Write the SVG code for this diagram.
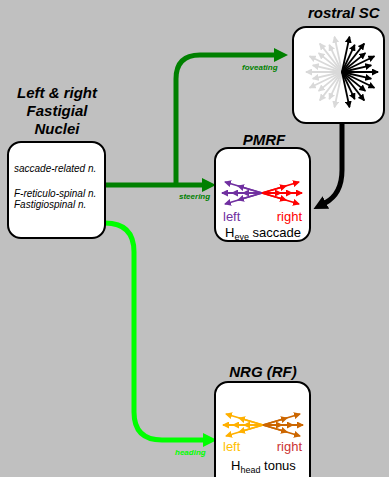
<svg xmlns="http://www.w3.org/2000/svg" width="389" height="477" viewBox="0 0 389 477">
<style>
.box{fill:#fff;stroke:#000;stroke-width:2}
.title{font-family:"Liberation Sans",Arial,sans-serif;font-weight:bold;font-style:italic;font-size:15px;fill:#000}
.small{font-family:"Liberation Sans",Arial,sans-serif;font-style:italic;font-size:10px;fill:#000}
.lbl{font-family:"Liberation Sans",Arial,sans-serif;font-size:13px}
.clbl{font-family:"Liberation Sans",Arial,sans-serif;font-weight:bold;font-style:italic;font-size:8px}
.conn{fill:none;stroke-width:5}
.ray{fill:none;stroke-width:1.8}
</style>
<defs>
<marker id="mDG" markerUnits="userSpaceOnUse" markerWidth="14" markerHeight="14" refX="1" refY="7" orient="auto"><path d="M0,0 L14,7 L0,14 z" fill="#008000"/></marker>
<marker id="mLG" markerUnits="userSpaceOnUse" markerWidth="14" markerHeight="14" refX="1" refY="7" orient="auto"><path d="M0,0 L14,7 L0,14 z" fill="#00FF00"/></marker>
<marker id="mBK" markerUnits="userSpaceOnUse" markerWidth="14" markerHeight="14" refX="1" refY="7" orient="auto"><path d="M0,0 L14,7 L0,14 z" fill="#000"/></marker>
<marker id="sBK" markerUnits="userSpaceOnUse" markerWidth="7" markerHeight="7" refX="6" refY="3.5" orient="auto"><path d="M0,0 L7,3.5 L0,7 z" fill="#000"/></marker>
<marker id="sGR" markerUnits="userSpaceOnUse" markerWidth="7" markerHeight="7" refX="6" refY="3.5" orient="auto"><path d="M0,0 L7,3.5 L0,7 z" fill="#D9D9D9"/></marker>
<marker id="sPU" markerUnits="userSpaceOnUse" markerWidth="7" markerHeight="7" refX="6" refY="3.5" orient="auto"><path d="M0,0 L7,3.5 L0,7 z" fill="#7030A0"/></marker>
<marker id="sRD" markerUnits="userSpaceOnUse" markerWidth="7" markerHeight="7" refX="6" refY="3.5" orient="auto"><path d="M0,0 L7,3.5 L0,7 z" fill="#FF0000"/></marker>
<marker id="sOR" markerUnits="userSpaceOnUse" markerWidth="7" markerHeight="7" refX="6" refY="3.5" orient="auto"><path d="M0,0 L7,3.5 L0,7 z" fill="#FFB000"/></marker>
<marker id="sDO" markerUnits="userSpaceOnUse" markerWidth="7" markerHeight="7" refX="6" refY="3.5" orient="auto"><path d="M0,0 L7,3.5 L0,7 z" fill="#CC6600"/></marker>
</defs>
<rect width="389" height="477" fill="#C0C0C0"/>

<g id="connectors">
<path class="conn" stroke="#008000" d="M105 185 H203" marker-end="url(#mDG)"/>
<path class="conn" stroke="#008000" d="M176 187 V79 Q176 55 200 55 H275" marker-end="url(#mDG)"/>
<text class="clbl" fill="#008000" x="242" y="70">foveating</text>
<text class="clbl" fill="#008000" x="179" y="199">steering</text>
<path class="conn" stroke="#00FF00" d="M105 223 Q134 223 134 252 V412 Q134 440 162 440 H204" marker-end="url(#mLG)"/>
<text class="clbl" fill="#00FF00" x="175" y="455">heading</text>
<path class="conn" stroke="#000" d="M342 123 V170 Q342 194 325 203" marker-end="url(#mBK)"/>
</g>

<g id="node-fastigial">
<text class="title" text-anchor="middle" x="57" y="98">Left &amp; right</text>
<text class="title" text-anchor="middle" x="57" y="116">Fastigial</text>
<text class="title" text-anchor="middle" x="57" y="134">Nuclei</text>
<rect class="box" x="8" y="142" width="97" height="96" rx="13"/>
<text class="small" x="14" y="172">saccade-related n.</text>
<text class="small" x="14" y="197">F-reticulo-spinal n.</text>
<text class="small" x="14" y="208">Fastigiospinal n.</text>
</g>

<g id="node-rostralSC">
<text class="title" x="308" y="18">rostral SC</text>
<rect class="box" x="293" y="27" width="91" height="96" rx="13"/>
<g stroke="#D9D9D9" class="ray" marker-end="url(#sGR)">
<path d="M342 72 L334.5 36.8"/><path d="M342 72 L329.3 44.8"/><path d="M342 72 L319.8 43.6"/><path d="M342 72 L318.7 53.1"/><path d="M342 72 L309.6 56.2"/><path d="M342 72 L312.8 65.3"/><path d="M342 72 L306 72"/><path d="M342 72 L312.8 78.7"/><path d="M342 72 L309.6 87.8"/><path d="M342 72 L318.7 90.9"/><path d="M342 72 L319.8 100.4"/><path d="M342 72 L329.3 99.2"/><path d="M342 72 L334.5 107.2"/>
</g>
<g stroke="#000" class="ray" marker-end="url(#sBK)">
<path d="M342 72 L349.5 36.8"/><path d="M342 72 L354.7 44.8"/><path d="M342 72 L364.2 43.6"/><path d="M342 72 L365.3 53.1"/><path d="M342 72 L374.4 56.2"/><path d="M342 72 L371.2 65.3"/><path d="M342 72 L378 72"/><path d="M342 72 L371.2 78.7"/><path d="M342 72 L374.4 87.8"/><path d="M342 72 L365.3 90.9"/><path d="M342 72 L364.2 100.4"/><path d="M342 72 L354.7 99.2"/><path d="M342 72 L349.5 107.2"/>
</g>
</g>

<g id="node-pmrf">
<text class="title" text-anchor="middle" x="264" y="145">PMRF</text>
<rect class="box" x="215" y="148" width="95" height="93" rx="13"/>
<g stroke="#7030A0" class="ray" marker-end="url(#sPU)">
<path d="M262 193 L222 193"/><path d="M262 193 L232 193"/><path d="M262 193 L243 193"/><path d="M262 193 L225 182"/><path d="M262 193 L238 186"/><path d="M262 193 L225 204"/><path d="M262 193 L238 200"/>
</g>
<g stroke="#FF0000" class="ray" marker-end="url(#sRD)">
<path d="M262 193 L302 193"/><path d="M262 193 L292 193"/><path d="M262 193 L281 193"/><path d="M262 193 L299 182"/><path d="M262 193 L286 186"/><path d="M262 193 L299 204"/><path d="M262 193 L286 200"/>
</g>
<text class="lbl" fill="#7030A0" x="223" y="221">left</text>
<text class="lbl" fill="#FF0000" x="302" y="221" text-anchor="end">right</text>
<text class="lbl" fill="#000" x="225" y="237">H<tspan font-size="9" dy="3">eye</tspan><tspan dy="-3"> saccade</tspan></text>
</g>

<g id="node-nrg">
<text class="title" text-anchor="middle" x="263" y="377">NRG (RF)</text>
<rect class="box" x="215" y="382" width="95" height="110" rx="13"/>
<g stroke="#FFB000" class="ray" marker-end="url(#sOR)">
<path d="M263 425 L223 425"/><path d="M263 425 L233 425"/><path d="M263 425 L244 425"/><path d="M263 425 L226 414"/><path d="M263 425 L239 418"/><path d="M263 425 L226 436"/><path d="M263 425 L239 432"/>
</g>
<g stroke="#CC6600" class="ray" marker-end="url(#sDO)">
<path d="M263 425 L303 425"/><path d="M263 425 L293 425"/><path d="M263 425 L282 425"/><path d="M263 425 L300 414"/><path d="M263 425 L287 418"/><path d="M263 425 L300 436"/><path d="M263 425 L287 432"/>
</g>
<text class="lbl" fill="#FFC000" x="223" y="451">left</text>
<text class="lbl" fill="#CC3333" x="302" y="451" text-anchor="end">right</text>
<text class="lbl" fill="#000" x="231" y="470">H<tspan font-size="9" dy="3">head</tspan><tspan dy="-3"> tonus</tspan></text>
</g>
</svg>
